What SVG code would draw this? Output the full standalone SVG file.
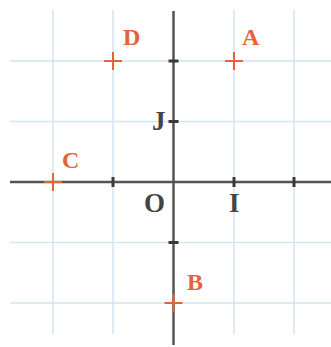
<svg xmlns="http://www.w3.org/2000/svg" width="331" height="347" viewBox="0 0 331 347">
<style>
.grid{stroke:#d3e5f0;stroke-width:1.5;fill:none}
.axis{stroke:#555;stroke-width:2.5;fill:none}
.tick{stroke:#3a3a3a;stroke-width:3;fill:none}
.pt{stroke:#e4643a;stroke-width:2;fill:none}
.lbl{font-family:"Liberation Serif","DejaVu Serif",serif;font-weight:bold;font-size:24px;fill:#e4643a}
.ax{font-family:"Liberation Serif","DejaVu Serif",serif;font-weight:bold;font-size:27px;fill:#444}
</style>
<rect width="331" height="347" fill="#fff"/>
<g id="grid" class="grid">
<line x1="53" y1="10" x2="53" y2="334"/>
<line x1="113" y1="10" x2="113" y2="334"/>
<line x1="234" y1="10" x2="234" y2="334"/>
<line x1="294" y1="10" x2="294" y2="334"/>
<line x1="10" y1="61" x2="331" y2="61"/>
<line x1="10" y1="121.5" x2="331" y2="121.5"/>
<line x1="10" y1="242.5" x2="331" y2="242.5"/>
<line x1="10" y1="303" x2="331" y2="303"/>
</g>
<g id="axes">
<line class="axis" x1="10" y1="182" x2="331" y2="182"/>
<line class="axis" x1="173.5" y1="11" x2="173.5" y2="345"/>
<g class="tick">
<line x1="113" y1="177" x2="113" y2="187"/>
<line x1="234" y1="177" x2="234" y2="187"/>
<line x1="294" y1="177" x2="294" y2="187"/>
<line x1="168.5" y1="61" x2="178.5" y2="61"/>
<line x1="168.5" y1="121.5" x2="178.5" y2="121.5"/>
<line x1="168.5" y1="242.5" x2="178.5" y2="242.5"/>
</g>
<text class="ax" x="144" y="212">O</text>
<text class="ax" x="229" y="212">I</text>
<text class="ax" x="152" y="130">J</text>
</g>
<g id="A"><path class="pt" d="M225 61h18M234 52v18"/><text class="lbl" x="242" y="45">A</text></g>
<g id="B"><path class="pt" d="M164.5 303h18M173.5 294v18"/><text class="lbl" x="187" y="290">B</text></g>
<g id="C"><path class="pt" d="M44 182h18M53 173v18"/><text class="lbl" x="62" y="168">C</text></g>
<g id="D"><path class="pt" d="M104 61h18M113 52v18"/><text class="lbl" x="123" y="45">D</text></g>
</svg>
